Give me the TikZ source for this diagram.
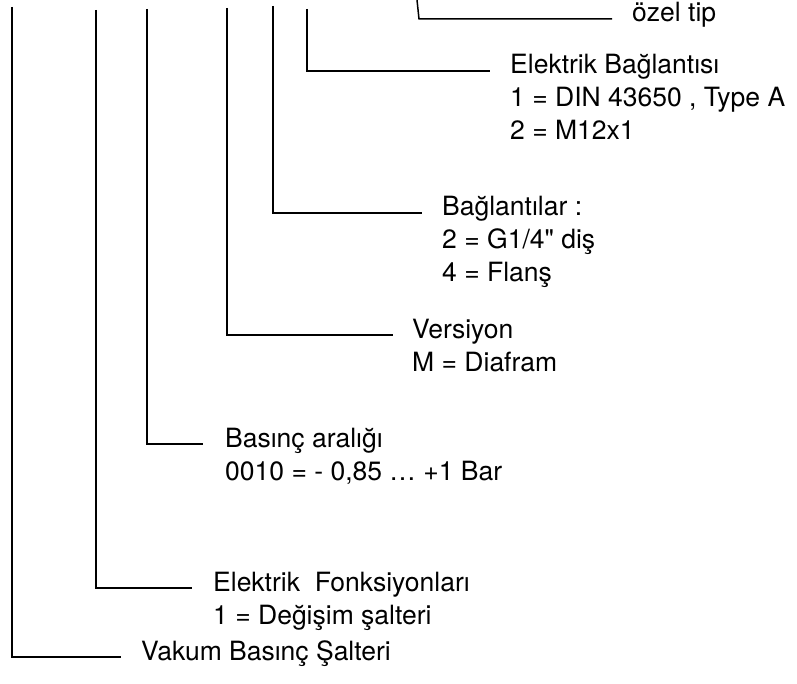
\documentclass[tikz,border=0pt]{standalone}
\usepackage{fontspec}
\setmainfont{TeX Gyre Heros}
\usetikzlibrary{positioning}
\newcommand{\lbllines}[1]{\begin{tabular}[t]{@{}l@{}}#1\end{tabular}}

\begin{document}
\begin{tikzpicture}[
  x=1pt, y=-1pt,
  every node/.style={font=\fontsize{26.5}{33}\selectfont, inner sep=0pt},
  lbl/.style={anchor=base west},
  leader/.style={line width=1.5pt, line join=miter}
]
\useasboundingbox (0,0) rectangle (797,684);
% tops of the leaders
\coordinate (tvak) at (12,7);
\coordinate (tfonk) at (96,10);
\coordinate (tbas) at (147,9);
\coordinate (tver) at (227,8);
\coordinate (tbag) at (273,6);
\coordinate (telk) at (307,9);
\coordinate (toz) at (417,0);
% ends of the leaders
\coordinate (evak) at (121,657);
\coordinate (efonk) at (192,588);
\coordinate (ebas) at (203,444);
\coordinate (ever) at (393,335);
\coordinate (ebag) at (422,213);
\coordinate (eelk) at (490,71);
\coordinate (cozl) at (419,19);
\coordinate (eoz) at (612,19);
% labels
\node[lbl] (vakum) at ([xshift=20pt,yshift=-3pt]evak) {Vakum Basınç Şalteri};
\node[lbl] (fonk) at ([xshift=21pt,yshift=-3pt]efonk) {\lbllines{Elektrik~~Fonksiyonları\\1 = Değişim şalteri}};
\node[lbl] (basinc) at ([xshift=22pt,yshift=-3pt]ebas) {\lbllines{Basınç aralığı\\0010 = - 0,85 … +1 Bar}};
\node[lbl] (versiyon) at ([xshift=19pt,yshift=-3pt]ever) {\lbllines{Versiyon\\M = Diafram}};
\node[lbl] (baglanti) at ([xshift=20pt,yshift=-3pt]ebag) {\lbllines{Bağlantılar :\\2 = G1/4\textquotedbl{} diş\\4 = Flanş}};
\node[lbl] (elektrik) at ([xshift=20pt,yshift=-3pt]eelk) {\lbllines{Elektrik Bağlantısı\\1 = DIN 43650 , Type A\\2 = M12x1}};
\node[lbl] (ozel) at ([xshift=20pt,yshift=-3pt]eoz) {özel tip};
% leaders
\draw[leader] (tvak) |- (evak);
\draw[leader] (tfonk) |- (efonk);
\draw[leader] (tbas) |- (ebas);
\draw[leader] (tver) |- (ever);
\draw[leader] (tbag) |- (ebag);
\draw[leader] (telk) |- (eelk);
\draw[leader] (toz) -- (cozl) -- (eoz);
\end{tikzpicture}
\end{document}
